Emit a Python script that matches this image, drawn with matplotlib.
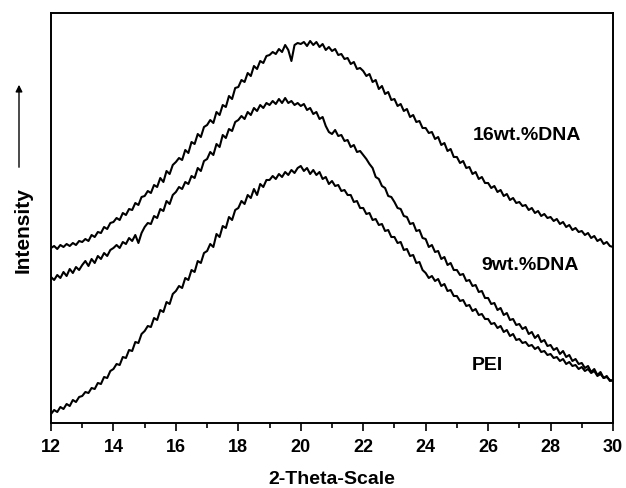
import numpy as np
import matplotlib
matplotlib.use("Agg")
import matplotlib.pyplot as plt

plt.rcParams["font.family"] = ["Liberation Sans", "DejaVu Sans"]
plt.rcParams["font.weight"] = "bold"

# 2-theta grid (step 0.1 deg, 12 -> 30)
two_theta = np.round(np.arange(120, 301) / 10.0, 1)

# intensities (arbitrary units, pixel-ish scale)
dna16 = [
    175, 177, 174, 178, 176, 179, 177, 180, 178, 182,
    181, 184, 182, 188, 186, 191, 190, 196, 194, 200,
    201, 205, 203, 210, 208, 214, 213, 220, 218, 226,
    227, 232, 230, 238, 236, 245, 241, 252, 249, 258,
    261, 265, 263, 273, 270, 281, 279, 289, 286, 296,
    298, 303, 300, 311, 308, 318, 316, 327, 324, 335,
    336, 343, 341, 350, 347, 357, 354, 362, 360, 367,
    368, 371, 369, 374, 371, 378, 373, 362, 378, 380,
    379, 381, 377, 382, 378, 381, 376, 379, 373, 376,
    372, 374, 368, 369, 364, 365, 359, 361, 354, 355,
    352, 347, 349, 341, 343, 334, 337, 329, 331, 323,
    324, 317, 319, 312, 314, 306, 308, 301, 302, 295,
    295, 290, 291, 284, 286, 278, 280, 272, 274, 266,
    266, 260, 262, 255, 256, 249, 251, 244, 246, 240,
    240, 235, 237, 231, 233, 227, 229, 223, 225, 220,
    221, 217, 218, 213, 215, 210, 212, 207, 209, 205,
    206, 202, 204, 199, 201, 196, 198, 193, 195, 191,
    192, 188, 190, 185, 187, 182, 184, 179, 181, 177,
    176,
]

dna9 = [
    146, 143, 148, 145, 151, 147, 154, 150, 156, 153,
    158, 162, 157, 164, 160, 167, 164, 170, 167, 173,
    175, 178, 175, 181, 179, 185, 182, 188, 180, 190,
    196, 200, 199, 207, 205, 214, 212, 222, 219, 228,
    231, 236, 234, 241, 239, 247, 245, 255, 252, 262,
    264, 271, 268, 279, 276, 288, 285, 294, 292, 301,
    303, 307, 304, 311, 308, 315, 312, 318, 315, 320,
    318, 322, 319, 324, 320, 325, 320, 322, 318, 320,
    317, 319, 313, 315, 309, 311, 304, 306, 297, 291,
    289, 293, 287, 288, 282, 283, 276, 278, 271, 272,
    268, 264, 259, 255, 246, 244, 237, 235, 227, 226,
    221, 215, 214, 207, 206, 199, 200, 192, 193, 185,
    184, 176, 178, 171, 172, 164, 166, 158, 160, 153,
    153, 148, 149, 142, 143, 137, 138, 131, 132, 125,
    125, 119, 120, 113, 115, 108, 110, 103, 104, 98,
    99, 94, 96, 89, 91, 85, 88, 81, 83, 77,
    78, 73, 75, 69, 72, 66, 68, 62, 64, 59,
    60, 55, 57, 51, 54, 48, 51, 45, 47, 42,
    43,
]

pei = [
    9, 13, 11, 16, 14, 19, 17, 23, 21, 26,
    27, 31, 30, 35, 34, 40, 39, 46, 45, 52,
    54, 59, 58, 66, 65, 73, 72, 81, 80, 89,
    92, 97, 96, 105, 103, 113, 111, 121, 119, 129,
    132, 137, 135, 145, 143, 153, 151, 162, 160, 170,
    172, 179, 176, 189, 186, 197, 195, 206, 203, 213,
    215, 222, 219, 228, 225, 234, 228, 239, 236, 243,
    243, 247, 244, 249, 246, 251, 248, 253, 250, 255,
    257, 252, 255, 249, 253, 248, 251, 244, 246, 239,
    242, 237, 238, 232, 233, 228, 228, 221, 222, 215,
    215, 209, 210, 203, 204, 198, 199, 192, 193, 186,
    186, 180, 181, 173, 174, 167, 168, 160, 161, 153,
    150, 145, 147, 142, 144, 137, 139, 132, 133, 127,
    127, 122, 123, 117, 118, 112, 114, 108, 109, 104,
    104, 99, 100, 95, 97, 91, 93, 87, 89, 83,
    84, 80, 81, 77, 78, 74, 76, 71, 72, 68,
    69, 65, 66, 62, 64, 59, 61, 57, 58, 54,
    56, 52, 54, 50, 52, 47, 49, 45, 46, 43,
    42,
]

labels = ["16wt.%DNA", "9wt.%DNA", "PEI"]
label_x = [25.52, 25.8, 25.49]
label_y = [288, 157, 57]

fig = plt.figure(figsize=(6.26, 4.88), dpi=100)
ax = fig.add_axes([51 / 626, 65 / 488, 562 / 626, 410 / 488])

for ys in [dna16, dna9, pei]:
    ax.plot(two_theta, ys, color="black", linewidth=1.5)

for lab, lx, ly in zip(labels, label_x, label_y):
    ax.text(lx, ly, lab, fontsize=14, fontweight="bold", va="center", ha="left")

ax.set_xlim(12, 30)
ax.set_ylim(0, 410)
ax.set_xticks(np.arange(12, 31, 2))
ax.set_xticks(np.arange(13, 30, 2), minor=True)
ax.set_yticks([])
ax.tick_params(axis="x", which="major", direction="out", length=5.5, width=1.2,
               labelsize=13, pad=6)
ax.tick_params(axis="x", which="minor", direction="out", length=3.5, width=1.2)
for lbl in ax.get_xticklabels():
    lbl.set_fontweight("bold")
for s in ax.spines.values():
    s.set_linewidth(1.4)

xl = ax.set_xlabel("2-Theta-Scale", fontsize=14, fontweight="bold")
xl.set_va("center")
ax.xaxis.set_label_coords(0.5, -(479 - 423) / 410)

# y label with arrow
fig.text(23 / 626, 1 - 230 / 488, "Intensity", rotation=90, fontsize=15,
         fontweight="bold", ha="center", va="center")
fig.add_artist(matplotlib.patches.FancyArrowPatch(
    (19 / 626, 1 - 170 / 488), (19 / 626, 1 - 82 / 488),
    transform=fig.transFigure, arrowstyle="-|>", mutation_scale=10,
    color="black", linewidth=1.0))

fig.savefig("out.png", dpi=100)
